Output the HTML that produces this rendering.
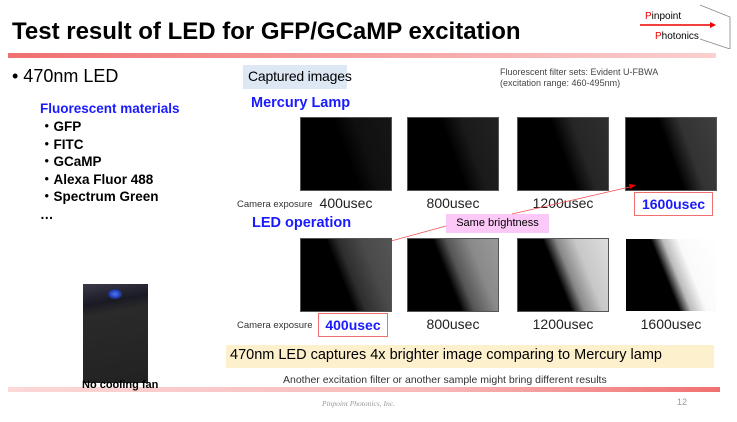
<!DOCTYPE html>
<html><head><meta charset="utf-8"><style>
*{margin:0;padding:0;box-sizing:border-box}
body{width:737px;height:422px;background:#fff;position:relative;overflow:hidden;font-family:"Liberation Sans","Noto Sans CJK JP",sans-serif;color:#000}
.a{position:absolute;white-space:nowrap}
.img{position:absolute;width:92px;height:74px;border:1px solid #555}
.cap{position:absolute;font-size:14px;color:#222;width:92px;text-align:center}
.ce{position:absolute;font-size:9.5px;color:#333}
.blue{color:#1a1aff;font-weight:bold}
</style></head><body>
<div class="a" style="left:12px;top:18px;font-size:24px;font-weight:bold">Test result of LED for GFP/GCaMP excitation</div>
<div class="a" style="left:640px;top:3px;width:92px;height:46px">
<svg width="92" height="46"><polyline points="60,2 90,14 90,46 60,36" fill="none" stroke="#888" stroke-width="0.8"/><line x1="0" y1="22" x2="70" y2="22" stroke="#e00" stroke-width="1.5"/><polygon points="70,19 76,22 70,25" fill="#e00"/><text x="5" y="16" font-size="10" font-family="Liberation Sans"><tspan fill="#e00">P</tspan>inpoint</text><text x="15" y="36" font-size="10" font-family="Liberation Sans"><tspan fill="#e00">P</tspan>hotonics</text></svg></div>
<div class="a" style="left:8px;top:53px;width:708px;height:5px;background:linear-gradient(90deg,#f07070,#fbd0d0)"></div>
<div class="a" style="left:12px;top:66px;font-size:18px">• 470nm LED</div>
<div class="a" style="left:40px;top:101px;font-size:13.5px;font-weight:bold;color:#1a1aff">Fluorescent materials</div>
<div class="a" style="left:40px;top:118px;font-size:13.5px;font-weight:bold;line-height:17.5px">・GFP<br>・FITC<br>・GCaMP<br>・Alexa Fluor 488<br>・Spectrum Green<br>…</div>
<div class="a" style="left:243px;top:65px;width:104px;height:24px;background:#dde8f4;font-size:14px;padding:3px 5px;letter-spacing:-0.2px">Captured images</div>
<div class="a" style="left:500px;top:67px;font-size:9px;color:#444;line-height:11px">Fluorescent filter sets: Evident U-FBWA<br>(excitation range: 460-495nm)</div>
<div class="a blue" style="left:251px;top:95px;font-size:14.5px">Mercury Lamp</div>
<div class="img" style="left:300px;top:117px;background:linear-gradient(70deg,#000 50%,#101010 68%,#161616)"></div>
<div class="img" style="left:407px;top:117px;background:linear-gradient(70deg,#000 50%,#1a1a1a 68%,#222)"></div>
<div class="img" style="left:517px;top:117px;background:linear-gradient(70deg,#000 50%,#262626 68%,#2e2e2e)"></div>
<div class="img" style="left:625px;top:117px;background:linear-gradient(70deg,#000 50%,#333 68%,#3e3e3e)"></div>
<div class="ce" style="left:237px;top:199px">Camera exposure</div>
<div class="cap" style="left:300px;top:195px">400usec</div>
<div class="cap" style="left:407px;top:195px">800usec</div>
<div class="cap" style="left:517px;top:195px">1200usec</div>
<div class="a blue" style="left:634px;top:192px;width:79px;height:24px;border:1px solid #f07070;font-size:14px;text-align:center;line-height:22px">1600usec</div>
<div class="a blue" style="left:252px;top:215px;font-size:14.5px">LED operation</div>
<div class="a" style="left:446px;top:214px;width:103px;height:19px;background:#fbc8f8;font-size:11px;text-align:center;line-height:19px">Same brightness</div>
<svg class="a" style="left:0;top:0" width="737" height="422"><line x1="512" y1="214" x2="634" y2="186" stroke="#f05050" stroke-width="0.8"/><polygon points="636,185 629,184 630,189" fill="#e00"/><line x1="446" y1="226" x2="380" y2="244" stroke="#f05050" stroke-width="0.8"/><polygon points="378,244 385,241 385,246" fill="#e00"/></svg>
<div class="img" style="left:300px;top:238px;background:linear-gradient(68deg,#000 45%,#2e2e2e 55%,#4a4a4a 75%,#555)"></div>
<div class="img" style="left:407px;top:238px;background:linear-gradient(68deg,#000 45%,#555 56%,#8a8a8a 75%,#999)"></div>
<div class="img" style="left:517px;top:238px;background:linear-gradient(68deg,#000 45%,#888 56%,#c8c8c8 72%,#ddd)"></div>
<div class="img" style="left:625px;top:238px;border-color:#fff;background:linear-gradient(68deg,#000 45%,#bbb 55%,#fafafa 68%,#fff)"></div>
<div class="ce" style="left:237px;top:320px">Camera exposure</div>
<div class="a blue" style="left:318px;top:313px;width:70px;height:24px;border:1px solid #f07070;font-size:14px;text-align:center;line-height:22px">400usec</div>
<div class="cap" style="left:407px;top:316px">800usec</div>
<div class="cap" style="left:517px;top:316px">1200usec</div>
<div class="cap" style="left:625px;top:316px">1600usec</div>
<div class="a" style="left:226px;top:345px;width:488px;height:23px;background:#fdf0cc;font-size:14.5px;padding:2px 4px">470nm LED captures 4x brighter image comparing to Mercury lamp</div>
<div class="a" style="left:283px;top:374px;font-size:10.5px;color:#333">Another excitation filter or another sample might bring different results</div>
<div class="a" style="left:8px;top:387px;width:712px;height:5px;background:linear-gradient(90deg,#fcd8d8,#f8b8b8 60%,#f07070)"></div>
<div class="a" style="left:83px;top:284px;width:65px;height:99px;background:linear-gradient(170deg,#3a3a4a 0%,#1a1a24 20%,#2a2a2a 30%,#222 100%)">
<div style="position:absolute;left:25px;top:5px;width:14px;height:10px;border-radius:50%;background:radial-gradient(#4a7aff,#1a2a8a 70%,transparent)"></div></div>
<div class="a" style="left:82px;top:379px;font-size:11px;font-weight:bold">No cooling fan</div>
<div class="a" style="left:322px;top:399px;font-size:7.5px;color:#999;font-style:italic;font-family:'Liberation Serif',serif">Pinpoint Photonics, Inc.</div>
<div class="a" style="left:677px;top:397px;font-size:9px;color:#999">12</div>
</body></html>
